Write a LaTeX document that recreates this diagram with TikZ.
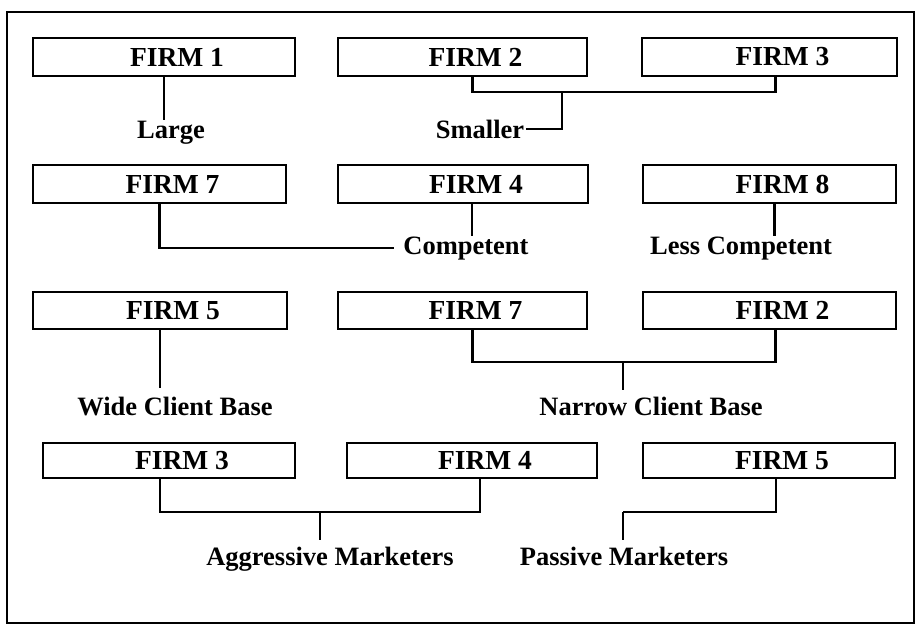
\documentclass[tikz,border=0pt]{standalone}
\usepackage{fontspec}
\setmainfont{Liberation Serif}
\begin{document}
\begin{tikzpicture}[x=1pt,y=-1pt,
  firmbox/.style={draw, line width=2.2pt, inner sep=0pt, font=\fontsize{27.5}{30}\selectfont\bfseries,
    execute at begin node={\hspace*{26pt}}},
  lbl/.style={inner sep=0pt, anchor=base, font=\fontsize{26.5}{30}\selectfont\bfseries},
  conn/.style={line width=2.2pt}]
\useasboundingbox (0,0) rectangle (917,626);
\draw[line width=2pt] (7,12) rectangle (914,623);
% Row 1
\node[firmbox, minimum width=262pt, minimum height=38pt] (f1) at (164,57) {FIRM 1};
\node[firmbox, minimum width=249pt, minimum height=38pt] (f2) at (462.5,57) {FIRM 2};
\node[firmbox, minimum width=255pt, minimum height=38pt] (f3) at (769.5,57) {FIRM 3};
\node[lbl] (lg) at (171,138) {Large};
\node[lbl] (sm) at (480,138) {Smaller};
\coordinate (j1) at (562,92);
\draw[conn] (f1.south) coordinate (a1) -- (a1 |- lg.north);
\draw[conn] ([xshift=10]f2.south) |- (j1) -| ([xshift=6]f3.south);
\draw[conn] (j1) -- (j1 |- sm.east) -- ([xshift=2]sm.east);
% Row 2
\node[firmbox, minimum width=253pt, minimum height=38pt] (f7a) at (159.5,184) {FIRM 7};
\node[firmbox, minimum width=250pt, minimum height=38pt] (f4a) at (463,184) {FIRM 4};
\node[firmbox, minimum width=253pt, minimum height=38pt] (f8) at (769.5,184) {FIRM 8};
\node[lbl] (co) at (466,254) {Competent};
\node[lbl] (lc) at (741,254) {Less Competent};
\draw[conn] (f7a.south) |- ([xshift=-9]co.west);
\draw[conn] ([xshift=9]f4a.south) coordinate (a2) -- (a2 |- co.north);
\draw[conn] ([xshift=5]f8.south) coordinate (a3) -- (a3 |- lc.north);
% Row 3
\node[firmbox, minimum width=254pt, minimum height=37pt] (f5a) at (160,310.5) {FIRM 5};
\node[firmbox, minimum width=249pt, minimum height=37pt] (f7b) at (462.5,310.5) {FIRM 7};
\node[firmbox, minimum width=253pt, minimum height=37pt] (f2b) at (769.5,310.5) {FIRM 2};
\node[lbl] (wc) at (175,415) {Wide Client Base};
\node[lbl] (nc) at (651,415) {Narrow Client Base};
\coordinate (j2) at (623,362);
\draw[conn, shorten >=8pt] (f5a.south) coordinate (a4) -- (a4 |- wc.north);
\draw[conn] ([xshift=10]f7b.south) |- (j2) -| ([xshift=6]f2b.south);
\draw[conn, shorten >=6pt] (j2) -- (j2 |- nc.north);
% Row 4
\node[firmbox, minimum width=252pt, minimum height=35pt] (f3b) at (169,460.5) {FIRM 3};
\node[firmbox, minimum width=250pt, minimum height=35pt] (f4b) at (472,460.5) {FIRM 4};
\node[firmbox, minimum width=252pt, minimum height=35pt] (f5b) at (769,460.5) {FIRM 5};
\node[lbl] (am) at (330,565) {Aggressive Marketers};
\node[lbl] (pm) at (624,565) {Passive Marketers};
\coordinate (j3) at (320,512);
\coordinate (j4) at (623,512);
\draw[conn] ([xshift=-9]f3b.south) |- (j3) -| ([xshift=8]f4b.south);
\draw[conn, shorten >=6pt] (j3) -- (j3 |- am.north);
\draw[conn] ([xshift=7]f5b.south) |- (j4);
\draw[conn, shorten >=6pt] (j4) -- (j4 |- pm.north);
\end{tikzpicture}
\end{document}
